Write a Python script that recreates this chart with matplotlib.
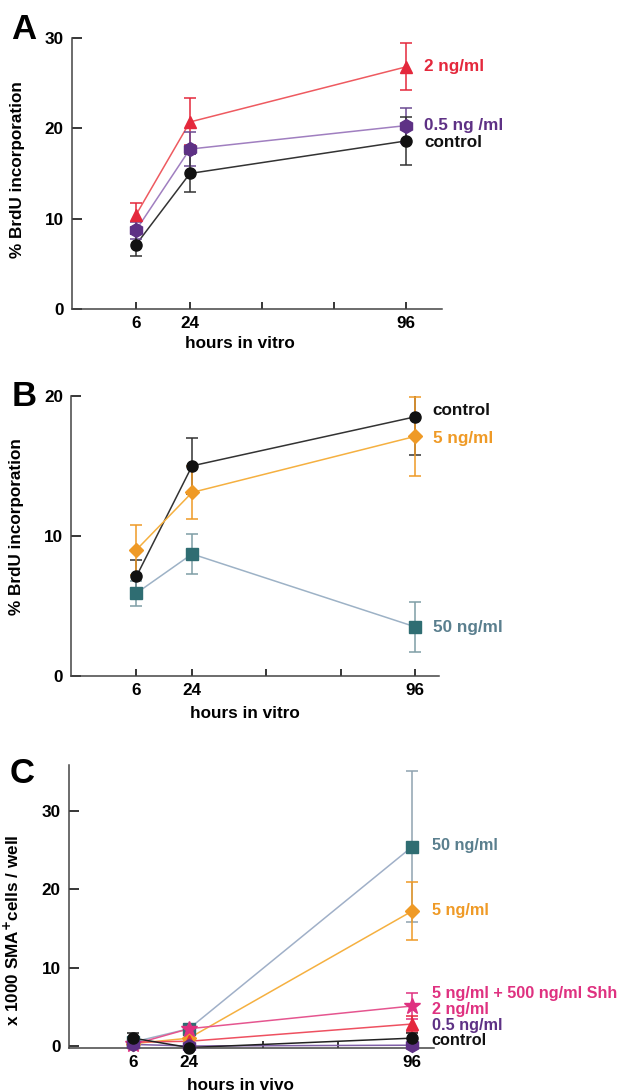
"""
Shh dose response: BrdU incorporation (A, B) and SMA+ cell counts (C).
"""

import numpy as np
import matplotlib
matplotlib.use("Agg")
import matplotlib.pyplot as plt

plt.rcParams["font.family"] = ["Liberation Sans", "DejaVu Sans"]
plt.rcParams["font.weight"] = "bold"
plt.rcParams["mathtext.default"] = "bf"

hours = [6, 24, 96]

# Panel A  (% BrdU incorporation, in vitro)
a_labels = ["2 ng/ml", "0.5 ng /ml", "control"]
a_mean = [[10.4, 20.7, 26.8], [8.7, 17.7, 20.3], [7.1, 15.0, 18.6]]
a_err = [[1.3, 2.6, 2.6], [0.9, 1.9, 1.9], [1.2, 2.1, 2.7]]

# Panel B
b_labels = ["control", "5 ng/ml", "50 ng/ml"]
b_mean = [[7.1, 15.0, 18.5], [9.0, 13.1, 17.1], [5.9, 8.7, 3.5]]
b_err = [[1.2, 2.0, 2.7], [1.8, 1.9, 2.8], [0.9, 1.4, 1.8]]

# Panel C  (x 1000 SMA+ cells / well, in vivo)
c_labels = ["50 ng/ml", "5 ng/ml", "5 ng/ml + 500 ng/ml Shh",
            "2 ng/ml", "0.5 ng/ml", "control"]
c_mean = [[0.5, 2.2, 25.4], [0.3, 1.0, 17.2], [0.2, 2.2, 5.1],
          [0.5, 0.6, 2.8], [0.2, 0.0, 0.1], [1.0, -0.2, 1.0]]
c_err = [[0.4, 0.6, 9.6], [0.3, 0.4, 3.7], [0.2, 0.6, 1.6],
         [0.2, 0.3, 1.0], [0.1, 0.1, 0.3], [0.7, 0.2, 0.7]]

RED = "#e4283c"
PURPLE = "#5e3185"
BLACK = "#111111"
ORANGE = "#ef9a26"
TEAL = "#2f6d72"
PINK = "#df3180"

# (marker, marker colour, line colour, errorbar colour, label colour, label dy)
a_style = [("^", RED, "#ee5a60", RED, RED, 0),
           ("h", PURPLE, "#a07fc0", "#6b4a92", PURPLE, 0),
           ("o", BLACK, "#333333", "#333333", BLACK, -0.2)]
b_style = [("o", BLACK, "#333333", "#333333", BLACK, 0.45),
           ("D", ORANGE, "#f5b040", ORANGE, ORANGE, -0.15),
           ("s", TEAL, "#9db2c6", "#7f9ea6", "#5a7f8e", -0.05)]
c_style = [("s", TEAL, "#a0b0c8", "#8fa3b0", "#5a7f8e", 0.1),
           ("D", ORANGE, "#f5b040", ORANGE, ORANGE, 0.1),
           ("*", PINK, "#e5558f", PINK, PINK, 1.6),
           ("^", RED, "#ee5060", RED, PINK, 1.9),
           ("h", PURPLE, "#8060a8", PURPLE, PURPLE, 2.5),
           ("o", BLACK, "#222222", "#222222", BLACK, -0.3)]

FS = 12.3

fig = plt.figure(figsize=(6.26, 10.91), dpi=100)


def draw_panel(rect, means, errs, labels, styles, xlim, ylim, yticks,
               ylabel, xlabel, ylab_pos, xlab_pos, letter, letter_xy,
               ms=8, label_dx=13, label_fs=FS):
    ax = fig.add_axes(rect)
    for m, e, lab, st in zip(means, errs, labels, styles):
        mk, mc, lc, ec, tc, dy = st
        size = {"*": ms + 4, "D": ms - 1, "h": ms + 2}.get(mk, ms)
        ax.plot(hours, m, color=lc, lw=1.1, zorder=2)
        ax.errorbar(hours, m, yerr=e, fmt="none", ecolor=ec, elinewidth=1.1,
                    capsize=4.5, capthick=1.1, zorder=3)
        ax.plot(hours, m, mk, color=mc, ms=size, mec=mc, zorder=4,
                clip_on=False)
        ax.annotate(lab, (hours[-1], m[-1] + dy), xytext=(label_dx, 0),
                    textcoords="offset points", ha="left", va="center",
                    color=tc, fontsize=label_fs, fontweight="bold")

    ax.set_xlim(*xlim)
    ax.set_ylim(*ylim)
    ax.set_xticks([6, 24, 48, 72, 96])
    ax.set_xticklabels(["6", "24", "", "", "96"])
    ax.set_yticks(yticks)
    ax.tick_params(axis="y", direction="in", length=7, width=1.1,
                   labelsize=FS, pad=6)
    ax.tick_params(axis="x", direction="in", length=5, width=1.1,
                   labelsize=FS, pad=5)
    for t in ax.get_xticklabels() + ax.get_yticklabels():
        t.set_fontweight("bold")
    for s in ["top", "right"]:
        ax.spines[s].set_visible(False)
    for s in ["left", "bottom"]:
        ax.spines[s].set_linewidth(1.1)
        ax.spines[s].set_color("#444444")
    ax.set_ylabel(ylabel, fontsize=FS, fontweight="bold")
    ax.yaxis.set_label_coords(*ylab_pos)
    ax.set_xlabel(xlabel, fontsize=FS, fontweight="bold")
    ax.xaxis.set_label_coords(*xlab_pos)
    fig.text(letter_xy[0], letter_xy[1], letter, fontsize=25,
             fontweight="bold", ha="left", va="top")
    return ax


ax_a = draw_panel([0.1150, 0.7168, 0.5911, 0.2484], a_mean, a_err, a_labels,
                  a_style, (-15.3, 108), (0, 30), [0, 10, 20, 30],
                  "% BrdU incorporation", "hours in vitro",
                  (-0.127, 0.515), (0.454, -0.10), "A", (0.018, 0.988))

ax_b = draw_panel([0.1142, 0.3807, 0.5864, 0.2564], b_mean, b_err, b_labels,
                  b_style, (-15.0, 103.7), (0, 20), [0, 10, 20],
                  "% BrdU incorporation", "hours in vitro",
                  (-0.129, 0.533), (0.473, -0.11), "B", (0.018, 0.652))

ax_c = draw_panel([0.1102, 0.0355, 0.5826, 0.2633], c_mean, c_err, c_labels,
                  c_style, (-14.7, 102.9), (-0.8, 35.8), [0, 10, 20, 30],
                  r"x 1000 SMA$^{+}$cells / well", "hours in vivo",
                  (-0.129, 0.426), (0.47, -0.09), "C", (0.016, 0.306),
                  label_dx=14, label_fs=11.7)
ax_c.spines["bottom"].set_position(("data", -0.2))
ax_c.spines["left"].set_bounds(-0.2, 35.8)

fig.savefig("out.png", dpi=100)
